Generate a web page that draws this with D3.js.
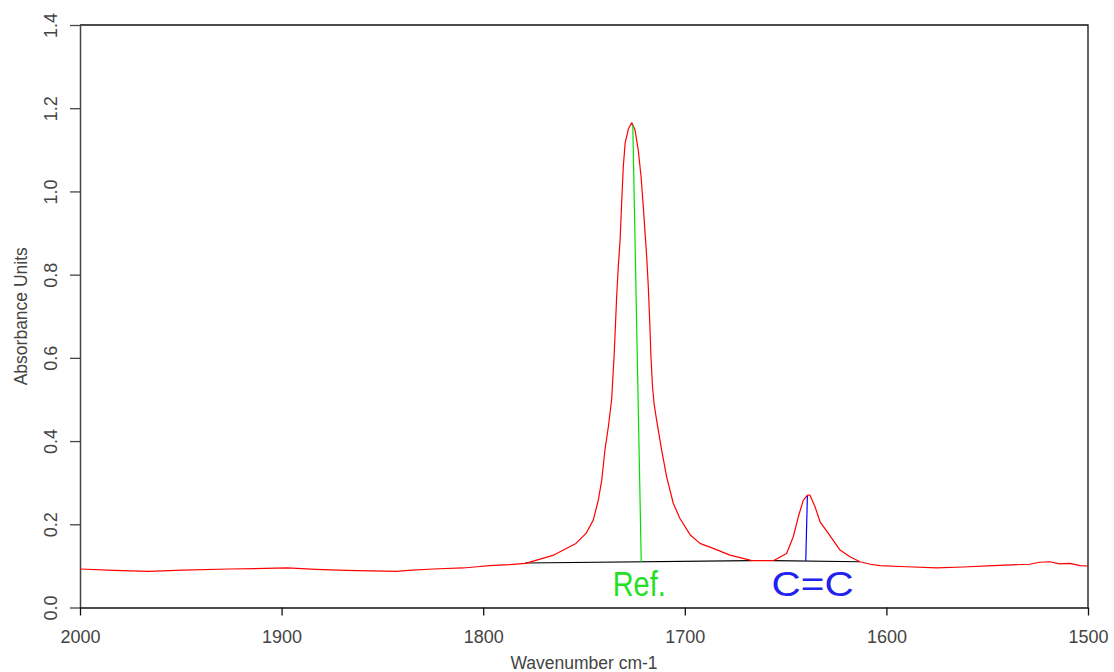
<!DOCTYPE html>
<html>
<head>
<meta charset="utf-8">
<script src="https://cdn.jsdelivr.net/npm/d3@7"></script>
<style>
  body { margin: 0; background: #fff; }
  svg { display: block; font-family: "Liberation Sans", Arial, sans-serif; }
</style>
</head>
<body>
<svg id="chart" width="1114" height="672"></svg>
<script>
'use strict';

// spectrum: wavenumber (cm-1), absorbance
const wavenumbers = [2000, 1983, 1966, 1949, 1926, 1897, 1883, 1868, 1843, 1837, 1825, 1810, 1803, 1797,
  1787, 1779, 1765, 1754, 1749, 1745.4, 1742.9, 1741.2, 1739.6, 1737.9, 1736.3, 1735.0, 1733.8, 1733.0,
  1732.1, 1731.3, 1730.5, 1729.6, 1728.0, 1726.3, 1724.7, 1723.1, 1721.7, 1720.6, 1719.8, 1718.9, 1718.1, 1717.3,
  1716.8, 1716.0, 1715.2, 1714.0, 1711.5, 1709.0, 1705.7, 1702.4, 1697.4, 1692.5, 1685.9, 1677.6, 1671.0, 1666.8,
  1656.1, 1649.5, 1646.2, 1643.7, 1641.2, 1639.1, 1637.9, 1635.4, 1632.9, 1628.8, 1623.0, 1618.1, 1613.1,
  1608, 1603.2, 1590, 1575, 1562, 1547, 1529, 1524, 1519, 1514, 1509, 1504, 1500];
const absorbance = [0.0925, 0.0894, 0.087, 0.090, 0.0925, 0.095, 0.0918, 0.0894, 0.087, 0.0894, 0.0925, 0.095, 0.098, 0.1005,
  0.103, 0.106, 0.126, 0.154, 0.178, 0.21, 0.258, 0.306, 0.379, 0.435, 0.499, 0.611, 0.747, 0.819,
  0.883, 0.975, 1.06, 1.116, 1.150, 1.165, 1.148, 1.10, 1.036, 0.964, 0.907, 0.843, 0.771, 0.675,
  0.603, 0.530, 0.488, 0.451, 0.379, 0.314, 0.25, 0.214, 0.175, 0.154, 0.142, 0.126, 0.118, 0.1125,
  0.1125, 0.130, 0.170, 0.218, 0.258, 0.270, 0.270, 0.242, 0.206, 0.178, 0.138, 0.122, 0.110,
  0.104, 0.1005, 0.098, 0.095, 0.0974, 0.1005, 0.104, 0.1087, 0.110, 0.105, 0.106, 0.1005, 0.0998];

// integration baselines [wn, A] -> [wn, A]
const baselines = [
  [[1779.3, 0.107], [1666.8, 0.1125]],
  [[1656.1, 0.1125], [1613.1, 0.110]]
];

// peak height markers and their labels
const peakNames = ["Ref.", "C=C"];
const peakTops = [[1725.8, 1.160], [1639.2, 0.268]];
const peakFeet = [[1721.6, 0.109], [1640.0, 0.112]];
const peakColors = ["#00e000", "#0000ff"];
const labelColors = ["#22e022", "#2222ee"];
const labelCenters = [1722.6, 1636.6];
const labelWidths = [53, 82];

const xTicks = [2000, 1900, 1800, 1700, 1600, 1500];
const yTicks = [0.0, 0.2, 0.4, 0.6, 0.8, 1.0, 1.2, 1.4];

const width = 1114;
const height = 672;
const margin = {top: 25, right: 26, bottom: 64.5, left: 80};

const svg = d3.select("#chart");

const x = d3.scaleLinear()
  .domain([2000, 1500])
  .range([margin.left, width - margin.right]);
const y = d3.scaleLinear()
  .domain([0, 1.4])
  .range([height - margin.bottom, margin.top]);

// frame top + right
svg.append("path")
  .attr("d", `M${x(2000)},${y(1.4)}H${x(1500)}V${y(0)}`)
  .attr("fill", "none")
  .attr("stroke", "#111")
  .attr("stroke-width", 1.3);

// y axis with rotated labels
const yAxis = svg.append("g")
  .attr("transform", `translate(${margin.left},0)`)
  .call(d3.axisLeft(y).tickValues(yTicks).tickFormat(d3.format(".1f")).tickSize(10).tickSizeOuter(0));
yAxis.select(".domain").attr("stroke", "#444").attr("stroke-width", 1.5);
yAxis.selectAll(".tick line").attr("stroke", "#444").attr("stroke-width", 1.3);
yAxis.selectAll(".tick text")
  .attr("transform", "rotate(-90)")
  .attr("x", 0)
  .attr("y", -23.5)
  .attr("dy", null)
  .attr("text-anchor", "middle")
  .attr("font-size", 18)
  .attr("font-family", "Liberation Sans, Arial, sans-serif")
  .attr("fill", "#444");

// x axis
const xAxis = svg.append("g")
  .attr("transform", `translate(0,${y(0)})`)
  .call(d3.axisBottom(x).tickValues(xTicks).tickFormat(d3.format("d")).tickSize(8).tickSizeOuter(0));
xAxis.select(".domain").attr("stroke", "#111").attr("stroke-width", 1.5);
xAxis.selectAll(".tick line").attr("stroke", "#111").attr("stroke-width", 1.3);
xAxis.selectAll(".tick text")
  .attr("y", 35.5)
  .attr("dy", null)
  .attr("font-size", 18)
  .attr("font-family", "Liberation Sans, Arial, sans-serif")
  .attr("fill", "#444");

// axis titles
svg.append("text")
  .attr("x", (x(2000) + x(1500)) / 2)
  .attr("y", 669)
  .attr("text-anchor", "middle")
  .attr("font-size", 17.5)
  .attr("fill", "#444")
  .text("Wavenumber cm-1");

svg.append("text")
  .attr("transform", `translate(26.5,${(y(0) + y(1.4)) / 2}) rotate(-90)`)
  .attr("text-anchor", "middle")
  .attr("font-size", 17.5)
  .attr("fill", "#444")
  .text("Absorbance Units");

// baselines
svg.append("g")
  .selectAll("line")
  .data(baselines)
  .join("line")
  .attr("x1", d => x(d[0][0]))
  .attr("y1", d => y(d[0][1]))
  .attr("x2", d => x(d[1][0]))
  .attr("y2", d => y(d[1][1]))
  .attr("stroke", "#000")
  .attr("stroke-width", 1.2);

// spectrum
const spectrum = wavenumbers.map((w, i) => [w, absorbance[i]]);
const line = d3.line()
  .x(d => x(d[0]))
  .y(d => y(d[1]));

svg.append("path")
  .datum(spectrum)
  .attr("d", line)
  .attr("fill", "none")
  .attr("stroke", "#ff0000")
  .attr("stroke-width", 1.2)
  .attr("stroke-linejoin", "round");

// peak height markers
svg.append("g")
  .selectAll("line")
  .data(peakNames)
  .join("line")
  .attr("x1", (d, i) => x(peakTops[i][0]))
  .attr("y1", (d, i) => y(peakTops[i][1]))
  .attr("x2", (d, i) => x(peakFeet[i][0]))
  .attr("y2", (d, i) => y(peakFeet[i][1]))
  .attr("stroke", (d, i) => peakColors[i])
  .attr("stroke-width", 1.2);

// peak labels
svg.append("g")
  .selectAll("text")
  .data(peakNames)
  .join("text")
  .attr("x", (d, i) => x(labelCenters[i]) - labelWidths[i] / 2)
  .attr("y", 595.5)
  .attr("textLength", (d, i) => labelWidths[i])
  .attr("lengthAdjust", "spacingAndGlyphs")
  .attr("font-size", 35)
  .attr("font-family", "Liberation Sans, Arial, sans-serif")
  .attr("fill", (d, i) => labelColors[i])
  .text(d => d);
</script>
</body>
</html>
